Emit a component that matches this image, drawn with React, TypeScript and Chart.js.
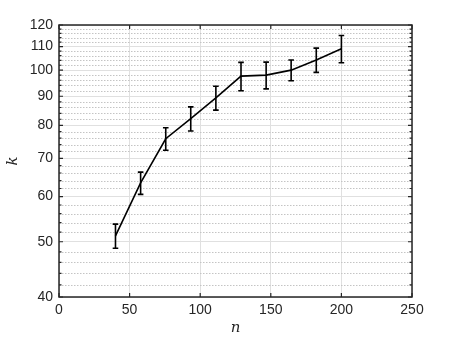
import React, { useEffect, useRef } from "react";
import { Chart, registerables } from "chart.js";

Chart.register(...registerables);

const nValues = [40, 57.8, 75.6, 93.3, 111.1, 128.9, 146.7, 164.4, 182.2, 200];
const kValues = [51.2, 63.4, 75.8, 82.2, 89.4, 97.6, 98.0, 100.0, 104.2, 109.0];
const kErrors = [2.5, 2.85, 3.45, 4.0, 4.3, 5.6, 5.3, 4.2, 5.1, 6.0];
const xTickValues = [0, 50, 100, 150, 200, 250];
const yTickValues = [40, 50, 60, 70, 80, 90, 100, 110, 120];
const yMinorValues = [
  42, 44, 46, 48, 52, 54, 56, 58, 62, 64, 66, 68, 72, 74, 76, 78, 82, 84, 86, 88,
  92, 94, 96, 98, 102, 104, 106, 108, 112, 114, 116, 118,
];

const AXIS_COLOR = "#262626";

const framePlugin = {
  id: "matlabFrame",
  beforeDatasetsDraw(chart: any) {
    const { ctx, chartArea } = chart;
    const ys = chart.scales.y;
    ctx.save();
    ctx.strokeStyle = "#c4c4c4";
    ctx.lineWidth = 1;
    ctx.setLineDash([1.5, 1.5]);
    for (const v of yMinorValues) {
      const y = Math.round(ys.getPixelForValue(v)) + 0.5;
      ctx.beginPath();
      ctx.moveTo(chartArea.left, y);
      ctx.lineTo(chartArea.right, y);
      ctx.stroke();
    }
    ctx.restore();
  },
  afterDatasetsDraw(chart: any) {
    const { ctx, chartArea } = chart;
    const xs = chart.scales.x;
    const ys = chart.scales.y;
    // error bars
    ctx.save();
    ctx.strokeStyle = "#000";
    ctx.lineWidth = 1.6;
    for (let i = 0; i < nValues.length; i++) {
      const x = xs.getPixelForValue(nValues[i]);
      const yt = ys.getPixelForValue(kValues[i] + kErrors[i]);
      const yb = ys.getPixelForValue(kValues[i] - kErrors[i]);
      ctx.beginPath();
      ctx.moveTo(x, yt);
      ctx.lineTo(x, yb);
      ctx.moveTo(x - 2.8, yt);
      ctx.lineTo(x + 2.8, yt);
      ctx.moveTo(x - 2.8, yb);
      ctx.lineTo(x + 2.8, yb);
      ctx.stroke();
    }
    ctx.restore();
    // box + ticks
    ctx.save();
    ctx.strokeStyle = AXIS_COLOR;
    ctx.lineWidth = 1.5;
    ctx.strokeRect(chartArea.left, chartArea.top, chartArea.right - chartArea.left, chartArea.bottom - chartArea.top);
    ctx.lineWidth = 1.2;
    ctx.beginPath();
    for (const v of xTickValues) {
      const x = xs.getPixelForValue(v);
      ctx.moveTo(x, chartArea.bottom);
      ctx.lineTo(x, chartArea.bottom - 4);
      ctx.moveTo(x, chartArea.top);
      ctx.lineTo(x, chartArea.top + 4);
    }
    for (const v of yTickValues) {
      const y = ys.getPixelForValue(v);
      ctx.moveTo(chartArea.left, y);
      ctx.lineTo(chartArea.left + 4, y);
      ctx.moveTo(chartArea.right, y);
      ctx.lineTo(chartArea.right - 4, y);
    }
    for (const v of yMinorValues) {
      const y = ys.getPixelForValue(v);
      ctx.moveTo(chartArea.left, y);
      ctx.lineTo(chartArea.left + 2.5, y);
      ctx.moveTo(chartArea.right, y);
      ctx.lineTo(chartArea.right - 2.5, y);
    }
    ctx.stroke();
    ctx.restore();
  },
};

export default function App() {
  const ref = useRef<HTMLCanvasElement | null>(null);
  useEffect(() => {
    document.body.style.margin = "0";
    document.body.style.overflow = "hidden";
    const canvas = ref.current;
    if (!canvas) return;
    const chart = new Chart(canvas, {
      type: "line",
      data: {
        datasets: [
          {
            data: nValues.map((n, i) => ({ x: n, y: kValues[i] })),
            borderColor: "#000",
            borderWidth: 1.6,
            pointRadius: 0,
            tension: 0,
            fill: false,
          },
        ],
      },
      options: {
        animation: false,
        responsive: false,
        devicePixelRatio: 1,
        layout: { padding: { left: 0, top: 25, right: 43, bottom: 0 } },
        plugins: { legend: { display: false }, tooltip: { enabled: false } },
        scales: {
          x: {
            type: "linear",
            min: 0,
            max: 250,
            afterBuildTicks: (scale: any) => {
              scale.ticks = xTickValues.map((v) => ({ value: v }));
            },
            afterFit: (scale: any) => {
              scale.height = 44;
            },
            grid: { color: "#e0e0e0", lineWidth: 1, drawTicks: false },
            border: { display: false },
            ticks: {
              padding: 5,
              color: AXIS_COLOR,
              font: { family: "Liberation Sans", size: 14 },
              maxRotation: 0,
              autoSkip: false,
            },
            title: {
              display: true,
              text: "n",
              color: AXIS_COLOR,
              font: { family: "DejaVu Serif", size: 15, style: "italic" },
              padding: { top: 4, bottom: 4 },
            },
          },
          y: {
            type: "logarithmic",
            min: 40,
            max: 120,
            afterBuildTicks: (scale: any) => {
              scale.ticks = yTickValues.map((v) => ({ value: v }));
            },
            afterFit: (scale: any) => {
              scale.width = 59;
            },
            grid: { color: "#e0e0e0", lineWidth: 1, drawTicks: false },
            border: { display: false },
            ticks: {
              padding: 6,
              color: AXIS_COLOR,
              font: { family: "Liberation Sans", size: 14 },
              autoSkip: false,
              callback: (v: any) => String(v),
            },
            title: {
              display: true,
              text: "k",
              color: AXIS_COLOR,
              font: { family: "DejaVu Serif", size: 15, style: "italic" },
              padding: { top: 4, bottom: 4 },
            },
          },
        },
      },
      plugins: [framePlugin],
    });
    return () => chart.destroy();
  }, []);
  return <canvas ref={ref} width={455} height={341} style={{ display: "block" }} />;
}
